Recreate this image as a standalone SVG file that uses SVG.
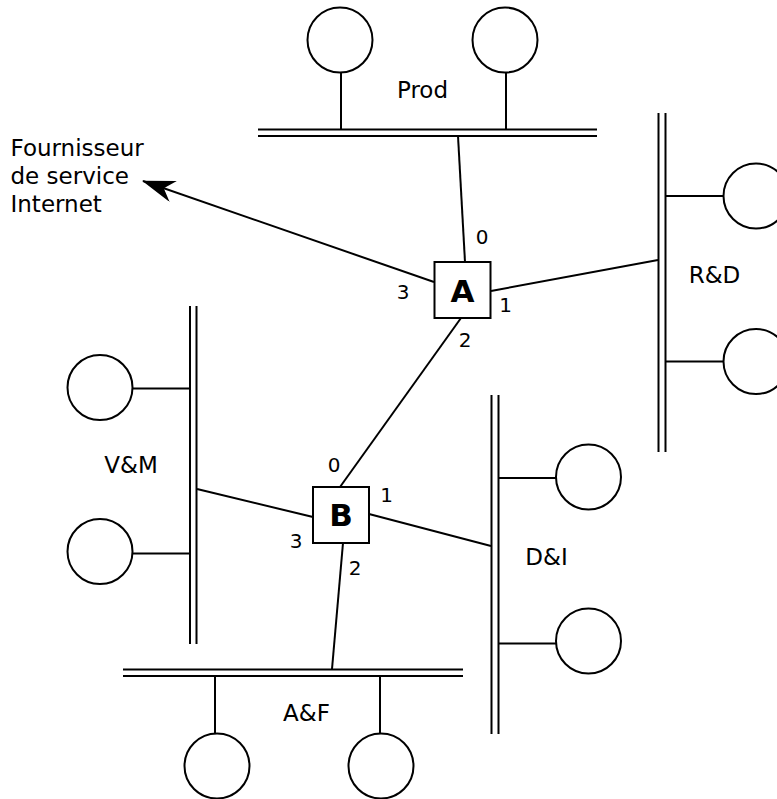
<svg xmlns="http://www.w3.org/2000/svg" width="777" height="799" viewBox="0 0 777 799">
<defs>
<style>
.ln{stroke:#000;stroke-width:2;fill:none}
.host{stroke:#000;stroke-width:2;fill:#fff}
.box{stroke:#000;stroke-width:2;fill:#fff}
.lbl{font-family:"DejaVu Sans",sans-serif;font-size:23px;fill:#000}
.port{font-family:"DejaVu Sans",sans-serif;font-size:20px;fill:#000;text-anchor:middle}
.rt{font-family:"DejaVu Sans",sans-serif;font-size:31px;font-weight:bold;fill:#000;text-anchor:middle}
</style>
<marker id="arr" viewBox="0 0 33 22" refX="32" refY="11" markerWidth="33" markerHeight="22" markerUnits="userSpaceOnUse" orient="auto">
<path d="M33,11 L0,0 L10,11 L0,22 Z" fill="#000"/>
</marker>
</defs>
<rect width="777" height="799" fill="#fff"/>

<g id="connectors">
<line class="ln" x1="458" y1="136" x2="465" y2="262"/>
<line class="ln" x1="491" y1="291" x2="658" y2="260"/>
<line class="ln" x1="434" y1="282" x2="143" y2="181" marker-end="url(#arr)"/>
<line class="ln" x1="461" y1="318" x2="340" y2="487"/>
<line class="ln" x1="197" y1="489" x2="313" y2="517"/>
<line class="ln" x1="369" y1="514" x2="491" y2="546"/>
<line class="ln" x1="343" y1="543" x2="332" y2="669"/>
</g>

<g id="prod">
<line class="ln" x1="258" y1="129.5" x2="597" y2="129.5"/>
<line class="ln" x1="258" y1="136" x2="597" y2="136"/>
<line class="ln" x1="341" y1="72" x2="341" y2="129"/>
<line class="ln" x1="506" y1="72" x2="506" y2="129"/>
<circle class="host" cx="340" cy="40" r="32.5"/>
<circle class="host" cx="505" cy="40" r="32.5"/>
<text class="lbl" x="422.5" y="98" text-anchor="middle">Prod</text>
</g>

<g id="rd">
<line class="ln" x1="658.5" y1="113" x2="658.5" y2="452"/>
<line class="ln" x1="665.5" y1="113" x2="665.5" y2="452"/>
<line class="ln" x1="666" y1="196" x2="723.5" y2="196"/>
<line class="ln" x1="666" y1="361.5" x2="723.5" y2="361.5"/>
<circle class="host" cx="756" cy="196" r="32.5"/>
<circle class="host" cx="756" cy="361.5" r="32.5"/>
<text class="lbl" x="714.5" y="283" text-anchor="middle">R&amp;D</text>
</g>

<g id="vm">
<line class="ln" x1="190" y1="306" x2="190" y2="644"/>
<line class="ln" x1="196.5" y1="306" x2="196.5" y2="644"/>
<line class="ln" x1="132.5" y1="388.5" x2="190" y2="388.5"/>
<line class="ln" x1="132.5" y1="553.5" x2="190" y2="553.5"/>
<circle class="host" cx="100" cy="387.5" r="32.5"/>
<circle class="host" cx="100" cy="551.5" r="32.5"/>
<text class="lbl" x="131" y="473" text-anchor="middle">V&amp;M</text>
</g>

<g id="di">
<line class="ln" x1="491.5" y1="395" x2="491.5" y2="734"/>
<line class="ln" x1="498.5" y1="395" x2="498.5" y2="734"/>
<line class="ln" x1="499" y1="478" x2="556" y2="478"/>
<line class="ln" x1="499" y1="643.5" x2="556" y2="643.5"/>
<circle class="host" cx="588.5" cy="477" r="32.5"/>
<circle class="host" cx="588.5" cy="641" r="32.5"/>
<text class="lbl" x="546.5" y="565" text-anchor="middle">D&amp;I</text>
</g>

<g id="af">
<line class="ln" x1="123" y1="669.5" x2="463" y2="669.5"/>
<line class="ln" x1="123" y1="676" x2="463" y2="676"/>
<line class="ln" x1="215" y1="676" x2="215" y2="733.5"/>
<line class="ln" x1="380" y1="676" x2="380" y2="733.5"/>
<circle class="host" cx="217" cy="766" r="32.5"/>
<circle class="host" cx="381" cy="766" r="32.5"/>
<text class="lbl" x="306.5" y="721" text-anchor="middle">A&amp;F</text>
</g>

<g id="isp">
<text class="lbl" x="10.5" y="156">Fournisseur</text>
<text class="lbl" x="10.5" y="184">de service</text>
<text class="lbl" x="10.5" y="212">Internet</text>
</g>

<g id="routerA">
<rect class="box" x="434.5" y="262" width="56" height="56"/>
<text class="rt" x="462.5" y="302">A</text>
<text class="port" x="482" y="244">0</text>
<text class="port" x="505.5" y="311.5">1</text>
<text class="port" x="465" y="346.5">2</text>
<text class="port" x="403" y="299">3</text>
</g>

<g id="routerB">
<rect class="box" x="313" y="487" width="56" height="56"/>
<text class="rt" x="341" y="526">B</text>
<text class="port" x="334" y="471.5">0</text>
<text class="port" x="386.5" y="501.5">1</text>
<text class="port" x="355" y="575">2</text>
<text class="port" x="296" y="548">3</text>
</g>
</svg>
